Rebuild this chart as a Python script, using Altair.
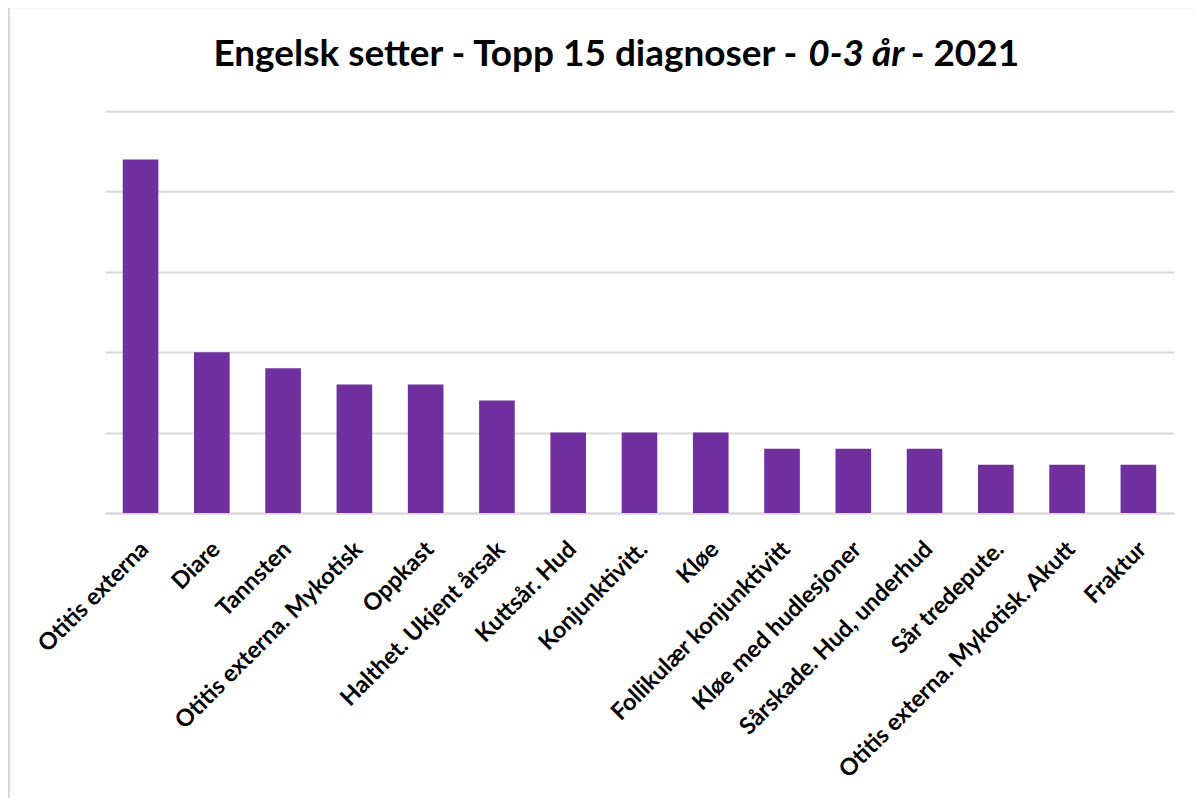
import altair as alt
import pandas as pd

categories = [
    "Otitis externa", "Diare", "Tannsten", "Otitis externa. Mykotisk", "Oppkast",
    "Halthet. Ukjent årsak", "Kuttsår. Hud", "Konjunktivitt.", "Kløe",
    "Follikulær konjunktivitt", "Kløe med hudlesjoner", "Sårskade. Hud, underhud",
    "Sår tredepute.", "Otitis externa. Mykotisk. Akutt", "Fraktur",
]
values = [22, 10, 9, 8, 8, 7, 5, 5, 5, 4, 4, 4, 3, 3, 3]
y_ticks = [0, 5, 10, 15, 20, 25]
title_parts = ["Engelsk setter - Topp 15 diagnoser -", "0-3 år", "- 2021"]

df = pd.DataFrame({"diagnose": categories, "antall": values})
one = pd.DataFrame({"k": [0]})

FONT = "Lato"
W, H = 1070, 402
TS = 37

bars = alt.Chart(df).mark_bar(color="#7030A0").encode(
    x=alt.X("diagnose:N", sort=categories, title=None,
            scale=alt.Scale(paddingInner=0.5, paddingOuter=0.25),
            axis=alt.Axis(labelAngle=-45, labelFont=FONT, labelFontWeight="bold",
                          labelFontSize=23.5, labelColor="#000000", ticks=False,
                          domainColor="#d9d9d9", domainWidth=2, labelPadding=24,
                          labelOffset=-4, labelLimit=500)),
    y=alt.Y("antall:Q", title=None,
            scale=alt.Scale(domain=[0, 25], nice=False),
            axis=alt.Axis(values=y_ticks, labels=False, ticks=False, domain=False,
                          gridColor="#d9d9d9", gridWidth=2)),
)

# chart-area frame (decoration, left and top edges)
frame_left = alt.Chart(one).mark_rule(color="#d9d9d9", strokeWidth=2).encode(
    x=alt.value(-96), y=alt.value(-104), y2=alt.value(H + 290)
)
frame_top = alt.Chart(one).mark_rule(color="#d9d9d9", strokeWidth=2).encode(
    x=alt.value(-96), x2=alt.value(W + 20), y=alt.value(-104)
)

# title in three pieces so that the age band can be italic
t1 = alt.Chart(one).mark_text(
    text=title_parts[0], font=FONT, fontSize=TS, fontWeight="bold",
    color="#000000", align="right", baseline="alphabetic",
).encode(x=alt.value(693), y=alt.value(-45))
t2 = alt.Chart(one).mark_text(
    text=title_parts[1], font=FONT, fontSize=TS, fontWeight="bold",
    fontStyle="italic", color="#000000", align="left", baseline="alphabetic",
).encode(x=alt.value(704), y=alt.value(-45))
t3 = alt.Chart(one).mark_text(
    text=title_parts[2], font=FONT, fontSize=TS, fontWeight="bold",
    color="#000000", align="right", baseline="alphabetic",
).encode(x=alt.value(915), y=alt.value(-45))

chart = alt.layer(frame_left, frame_top, bars, t1, t2, t3).properties(
    width=W,
    height=H,
    autosize=alt.AutoSizeParams(type="none"),
    padding={"left": 97, "top": 103, "right": 20, "bottom": 285},
).configure_view(stroke=None)

chart.save("out.html", embed_options={"renderer": "svg", "actions": False})
